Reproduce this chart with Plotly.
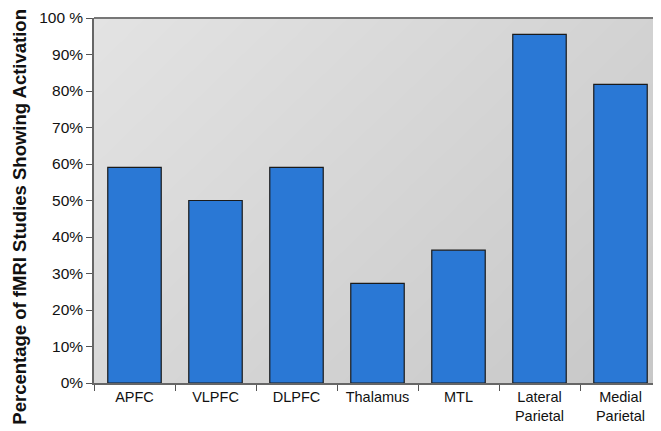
import numpy as np
import plotly.graph_objects as go

categories = ["APFC", "VLPFC", "DLPFC", "Thalamus", "MTL", "Lateral<br>Parietal", "Medial<br>Parietal"]
values = [59.1, 50.0, 59.1, 27.3, 36.4, 95.5, 81.8]
tick_vals = [0, 10, 20, 30, 40, 50, 60, 70, 80, 90, 100]
tick_text = ["0%", "10%", "20%", "30%", "40%", "50%", "60%", "70%", "80%", "90%", "100 %"]
y_title = "<b>Percentage of fMRI Studies Showing Activation</b>"

# background gradient (styling only)
gx = np.linspace(0, 1, 60)
gy = np.linspace(0, 1, 40)
Z = (gx[None, :] * 0.6 + (1 - gy[:, None]) * 0.4)

fig = go.Figure()
fig.add_trace(go.Heatmap(z=Z, x=gx, y=gy, colorscale=[[0, "#e3e3e3"], [1, "#c7c7c7"]],
                         showscale=False, hoverinfo="skip", xaxis="x", yaxis="y", zsmooth="best"))
fig.add_trace(go.Bar(x=categories, y=values, xaxis="x2", yaxis="y2", width=0.66,
                     marker=dict(color="#2a78d5", line=dict(color="#1a1a1a", width=1.2))))

fig.update_layout(
    width=653, height=423,
    margin=dict(l=86, r=0, t=10, b=48, autoexpand=False),
    paper_bgcolor="white", plot_bgcolor="#d4d4d4",
    showlegend=False,
    font=dict(family="Liberation Sans, Arial, sans-serif", color="#111111"),
    xaxis=dict(range=[0, 1], visible=False, fixedrange=True),
    yaxis=dict(range=[0, 1], visible=False, fixedrange=True),
    xaxis2=dict(overlaying="x", anchor="y2", tickson="boundaries", ticks="outside", ticklen=6,
                tickcolor="#555555", showline=True, linecolor="#666666", linewidth=1.5,
                tickfont=dict(size=14.5, color="#111111"), showgrid=False, range=[-0.5, 6.5],
                automargin=False),
    yaxis2=dict(overlaying="y", anchor="x2", range=[0, 100], tickvals=tick_vals, ticktext=tick_text,
                ticks="outside", ticklen=6, tickcolor="#555555", showline=True, linecolor="#666666",
                linewidth=1.5, showgrid=False, zeroline=False, tickfont=dict(size=15.5, color="#111111"),
                automargin=False),
)
fig.add_annotation(text=y_title, textangle=-90, xref="paper", yref="paper", x=-0.131, y=0.455,
                   xanchor="center", yanchor="middle", showarrow=False, borderpad=0,
                   font=dict(size=18.5, color="#111111"))
fig.add_shape(type="line", xref="paper", yref="paper", x0=0, x1=1, y0=1, y1=1,
              line=dict(color="#777777", width=2))
fig.write_html("out.html")
